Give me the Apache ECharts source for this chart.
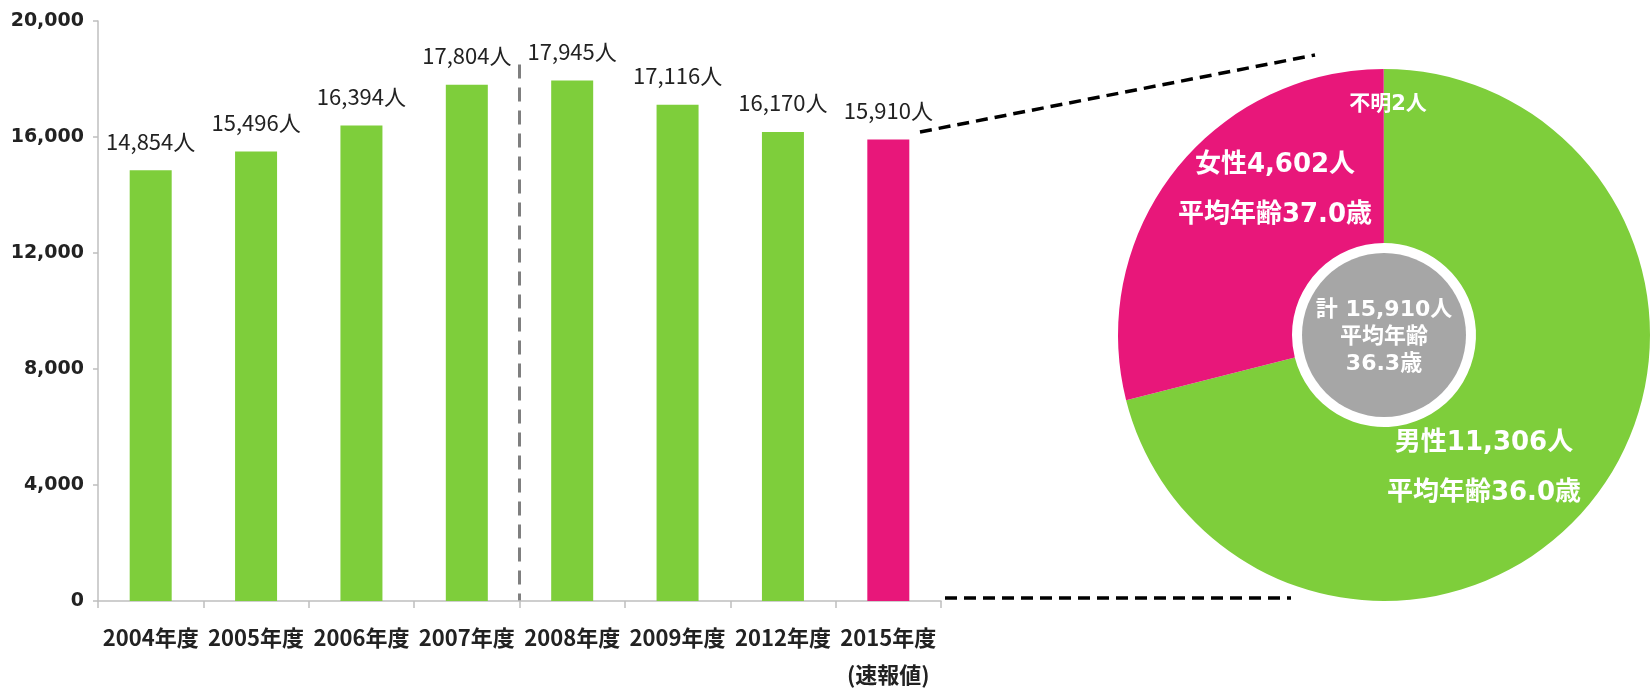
<!DOCTYPE html>
<html>
<head>
<meta charset="utf-8">
<script src="https://cdn.jsdelivr.net/npm/echarts@6/dist/echarts.min.js"></script>
<style>
  html, body { margin: 0; padding: 0; background: #ffffff; }
  #main { width: 1652px; height: 693px; }
</style>
</head>
<body>
<div id="main"></div>
<script>
// ---- data ----
const categories = ['2004年度', '2005年度', '2006年度', '2007年度', '2008年度', '2009年度', '2012年度', '2015年度'];
const categoryNotes = ['', '', '', '', '', '', '', '(速報値)'];
const counts = [14854, 15496, 16394, 17804, 17945, 17116, 16170, 15910];
const yMin = 0, yMax = 20000, yStep = 4000;

const genderNames = ['男性', '女性', '不明'];
const genderCounts = [11306, 4602, 2];
const genderAges = ['36.0', '37.0', null];
const totalCount = 15910;
const totalAge = '36.3';

// ---- styles ----
const GREEN = '#7ECE3B';
const PINK = '#E8177A';
const GREY = '#A6A6A6';
const AXIS = '#BFBFBF';
const TEXT = '#222222';
const fmt = v => v.toLocaleString('en-US');

const chart = echarts.init(document.getElementById('main'), null, { renderer: 'canvas' });

const pieCenter = [1384, 335];
const labelOffsets = [[100, 133], [-109, -145], [4, -230]];

const option = {
  animation: false,
  backgroundColor: '#ffffff',
  grid: { left: 98, right: 711, top: 21, bottom: 86, containLabel: false },
  xAxis: {
    type: 'category',
    data: categories,
    axisLine: { show: true, lineStyle: { color: AXIS, width: 1.5 } },
    axisTick: { show: true, length: 7, lineStyle: { color: AXIS, width: 1.5 } },
    axisLabel: {
      interval: 0, margin: 18, color: TEXT,
      fontFamily: '"Liberation Sans Narrow", "Noto Sans CJK JP", sans-serif',
      fontWeight: 'bold', fontSize: 22, lineHeight: 37,
      formatter: (v, i) => categoryNotes[i] ? v + '\n' + categoryNotes[i] : v
    },
    splitLine: { show: false }
  },
  yAxis: {
    type: 'value', min: yMin, max: yMax, interval: yStep,
    axisLine: { show: true, lineStyle: { color: AXIS, width: 1.5 } },
    axisTick: { show: true, length: 5, lineStyle: { color: AXIS, width: 1.5 } },
    splitLine: { show: false },
    axisLabel: {
      margin: 14, color: TEXT,
      fontFamily: '"DejaVu Sans", sans-serif', fontWeight: 'bold', fontSize: 19,
      formatter: v => fmt(v)
    }
  },
  series: [
    {
      type: 'bar',
      data: counts,
      barWidth: 42,
      silent: true,
      itemStyle: {
        color: p => (p.dataIndex === counts.length - 1 ? PINK : GREEN)
      },
      label: {
        show: true, position: 'top', distance: 18, color: TEXT,
        fontFamily: '"Liberation Sans Narrow", "Noto Sans CJK JP", sans-serif',
        fontSize: 22,
        formatter: p => fmt(p.value) + '人'
      }
    },
    {
      type: 'pie',
      center: pieCenter,
      radius: [92, 266],
      startAngle: 90,
      clockwise: true,
      silent: true,
      avoidLabelOverlap: false,
      minAngle: 0,
      itemStyle: { borderWidth: 0 },
      emphasis: { disabled: true },
      data: genderNames.map((n, i) => ({
        name: n,
        value: genderCounts[i],
        itemStyle: { color: [GREEN, PINK, GREY][i] }
      })),
      label: {
        show: true, position: 'inside', color: '#ffffff',
        fontFamily: '"DejaVu Sans", "Noto Sans CJK JP", sans-serif',
        fontWeight: 'bold', fontSize: 26, lineHeight: 50, align: 'center',
        formatter: p => {
          const i = p.dataIndex;
          let s = genderNames[i] + fmt(genderCounts[i]) + '人';
          if (genderAges[i]) s += '\n平均年齢' + genderAges[i] + '歳';
          return s;
        }
      },
      labelLine: { show: false },
      labelLayout: p => ({
        x: pieCenter[0] + labelOffsets[p.dataIndex][0],
        y: pieCenter[1] + labelOffsets[p.dataIndex][1],
        align: 'center', verticalAlign: 'middle',
        fontSize: p.dataIndex === 2 ? 21 : 26
      })
    },
    {
      type: 'pie',
      center: pieCenter,
      radius: [0, 82],
      silent: true,
      emphasis: { disabled: true },
      itemStyle: { color: GREY, borderWidth: 0 },
      data: [{ name: '計', value: totalCount }],
      label: {
        show: true, position: 'center', color: '#ffffff',
        fontFamily: '"DejaVu Sans", "Noto Sans CJK JP", sans-serif',
        fontWeight: 'bold', fontSize: 22, lineHeight: 27,
        offset: [0, 2],
        formatter: () => '計 ' + fmt(totalCount) + '人\n平均年齢\n' + totalAge + '歳'
      },
      labelLine: { show: false }
    }
  ]
};

chart.setOption(option);

// decorative lines computed through the axes
const pA = chart.convertToPixel({ gridIndex: 0 }, [categories[3], 18500]);
const pB = chart.convertToPixel({ gridIndex: 0 }, [categories[4], 0]);
const sepX = (pA[0] + pB[0]) / 2;

chart.setOption({
  graphic: [
    {
      type: 'line', silent: true,
      shape: { x1: sepX, y1: pA[1], x2: sepX, y2: pB[1] },
      style: { stroke: '#7F7F7F', lineWidth: 3, lineDash: [14, 9] }
    },
    {
      type: 'line', silent: true,
      shape: { x1: 920, y1: 132, x2: 1315, y2: 55 },
      style: { stroke: '#000000', lineWidth: 3.5, lineDash: [12, 7] }
    },
    {
      type: 'line', silent: true,
      shape: { x1: 945, y1: 598, x2: 1291, y2: 598 },
      style: { stroke: '#000000', lineWidth: 3.5, lineDash: [12, 7] }
    }
  ]
});
</script>
</body>
</html>
